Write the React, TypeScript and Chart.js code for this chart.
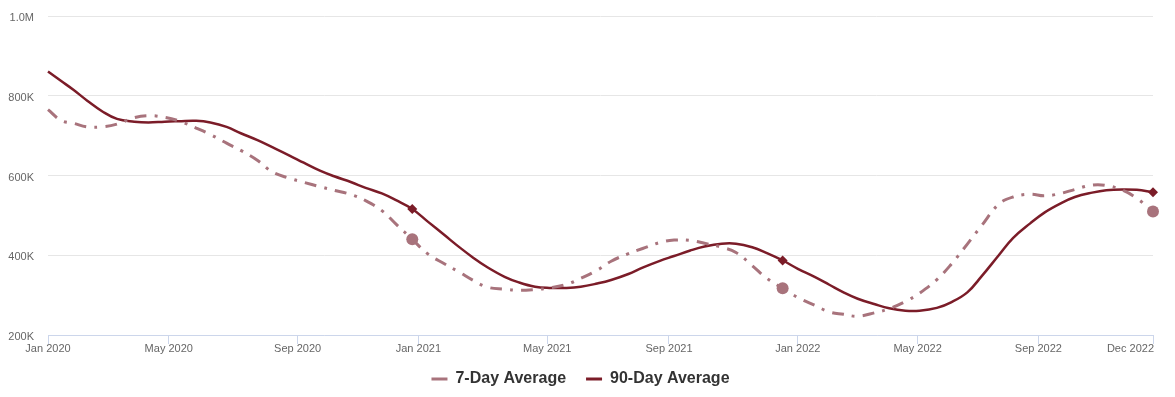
import React, { useEffect, useRef } from "react";
import { Chart, registerables } from "chart.js";

Chart.register(...registerables);

// Dates of the sampled points (ISO)
const dates = [
  "2020-01-07", "2020-01-20", "2020-02-01", "2020-02-15", "2020-03-01", "2020-03-15",
  "2020-04-01", "2020-04-15", "2020-05-01", "2020-05-15", "2020-06-01", "2020-06-15",
  "2020-07-01", "2020-07-15", "2020-08-01", "2020-08-15", "2020-09-01", "2020-09-15",
  "2020-10-01", "2020-10-15", "2020-11-01", "2020-11-15", "2020-12-01", "2020-12-15",
  "2020-12-31",
  "2021-01-15", "2021-02-01", "2021-02-15", "2021-03-01", "2021-03-15", "2021-04-01",
  "2021-04-15", "2021-05-01", "2021-05-15", "2021-06-01", "2021-06-15", "2021-07-01",
  "2021-07-15", "2021-08-01", "2021-08-15", "2021-09-01", "2021-09-15", "2021-10-01",
  "2021-10-15", "2021-11-01", "2021-11-15", "2021-12-01", "2021-12-15", "2021-12-31",
  "2022-01-15", "2022-02-01", "2022-02-15", "2022-03-01", "2022-03-15", "2022-04-01",
  "2022-04-15", "2022-05-01", "2022-05-15", "2022-06-01", "2022-06-15", "2022-07-01",
  "2022-07-15", "2022-08-01", "2022-08-15", "2022-09-01", "2022-09-15", "2022-10-01",
  "2022-10-15", "2022-11-01", "2022-11-15", "2022-12-01", "2022-12-15", "2022-12-31",
];

// Values in thousands
const sevenDay = [
  765, 738, 731, 722, 722, 729,
  745, 750, 746, 737, 719, 703,
  681, 663, 637, 609, 593, 583,
  572, 563, 552, 537, 512, 478,
  440,
  404, 378, 358, 337, 320, 315,
  312, 314, 318, 327, 342, 362,
  385, 404, 417, 432, 438, 437,
  430, 420, 407, 374, 343, 317,
  294, 274, 258, 252, 247, 256,
  266, 284, 305, 339, 377, 428,
  474, 528, 546, 553, 549, 555,
  565, 576, 575, 563, 543, 510,
];

const ninetyDay = [
  861, 837, 815, 787, 760, 742,
  735, 733, 735, 736, 737, 733,
  722, 706, 688, 671, 650, 632,
  612, 598, 583, 569, 555, 538,
  516,
  485, 450, 421, 394, 370, 346,
  332, 321, 318, 318, 321, 329,
  338, 353, 369, 386, 398, 412,
  422, 429, 429, 420, 406, 387,
  366, 345, 326, 307, 291, 277,
  267, 261, 261, 268, 282, 307,
  347, 400, 443, 480, 507, 530,
  546, 557, 563, 565, 564, 558,
];

const markerDates = ["2020-12-31", "2021-12-31", "2022-12-31"];

const tickDates = [
  "2020-01-07", "2020-05-05", "2020-09-09", "2021-01-06", "2021-05-13",
  "2021-09-10", "2022-01-15", "2022-05-13", "2022-09-09", "2022-12-31",
];
const tickLabels = [
  "Jan 2020", "May 2020", "Sep 2020", "Jan 2021", "May 2021",
  "Sep 2021", "Jan 2022", "May 2022", "Sep 2022", "Dec 2022",
];

const yTicks = [200, 400, 600, 800, 1000];
const seriesNames = ["7-Day Average", "90-Day Average"];

const COLOR_7 = "#a8737c";
const COLOR_90 = "#7b1c28";
const FONT = '"Liberation Sans", Arial, Helvetica, sans-serif';

const dayOf = (s: string) => {
  const [y, m, d] = s.split("-").map(Number);
  return (Date.UTC(y, m - 1, d) - Date.UTC(2020, 0, 1)) / 86400000;
};

const markerIdx = new Set(markerDates.map((d) => dates.indexOf(d)));

const xLabelPlugin = {
  id: "xLabels",
  afterDraw(chart: any) {
    const { ctx, chartArea } = chart;
    const x = chart.scales.x;
    ctx.save();
    ctx.font = `11px ${FONT}`;
    ctx.fillStyle = "#666666";
    ctx.textBaseline = "middle";
    tickDates.forEach((d, i) => {
      const px = x.getPixelForValue(dayOf(d));
      const last = i === tickDates.length - 1;
      ctx.textAlign = last ? "right" : "center";
      ctx.fillText(tickLabels[i], px + (last ? 1 : 0), chartArea.bottom + 14);
    });
    ctx.restore();
  },
};

export default function App() {
  const ref = useRef<HTMLCanvasElement | null>(null);

  useEffect(() => {
    if (!ref.current) return;
    const chart = new Chart(ref.current, {
      type: "line",
      data: {
        datasets: [
          {
            label: seriesNames[0],
            data: dates.map((d, i) => ({ x: dayOf(d), y: sevenDay[i] })),
            borderColor: COLOR_7,
            backgroundColor: COLOR_7,
            borderWidth: 3,
            borderDash: [12, 8, 3, 8],
            tension: 0.4,
            pointRadius: (c: any) => (markerIdx.has(c.dataIndex) ? 6 : 0),
            pointStyle: "circle",
            pointBackgroundColor: COLOR_7,
            pointBorderWidth: 0,
            clip: false,
          },
          {
            label: seriesNames[1],
            data: dates.map((d, i) => ({ x: dayOf(d), y: ninetyDay[i] })),
            borderColor: COLOR_90,
            backgroundColor: COLOR_90,
            borderWidth: 2.5,
            tension: 0.4,
            pointRadius: (c: any) => (markerIdx.has(c.dataIndex) ? 5 : 0),
            pointStyle: "rectRot",
            pointBackgroundColor: COLOR_90,
            pointBorderWidth: 0,
            clip: false,
          },
        ],
      },
      options: {
        animation: false,
        responsive: true,
        maintainAspectRatio: false,
        layout: { padding: { top: 8, right: 14, bottom: 0, left: 0 } },
        plugins: {
          tooltip: { enabled: false },
          legend: {
            position: "bottom",
            labels: {
              boxWidth: 16,
              boxHeight: 3,
              padding: 20,
              color: "#333333",
              font: { family: FONT, size: 16, weight: "bold" },
              generateLabels: (ch: any) =>
                ch.data.datasets.map((ds: any, i: number) => ({
                  text: ds.label,
                  fillStyle: ds.borderColor,
                  strokeStyle: ds.borderColor,
                  lineWidth: 0,
                  hidden: false,
                  datasetIndex: i,
                  fontColor: "#333333",
                })),
            },
          },
        },
        scales: {
          x: {
            type: "linear",
            min: dayOf(dates[0]),
            max: dayOf(dates[dates.length - 1]),
            afterBuildTicks: (s: any) => {
              s.ticks = tickDates.map((d) => ({ value: dayOf(d) }));
            },
            afterFit: (s: any) => {
              s.height = 16;
              s.paddingLeft = 0;
              s.paddingRight = 0;
            },
            ticks: { display: false },
            grid: {
              drawOnChartArea: false,
              drawTicks: true,
              tickLength: 9,
              color: "#ccd6eb",
              lineWidth: 1,
            },
            border: { display: true, color: "#ccd6eb", width: 1 },
          },
          y: {
            min: 200,
            max: 1000,
            afterBuildTicks: (s: any) => {
              s.ticks = yTicks.map((v) => ({ value: v }));
            },
            afterFit: (s: any) => {
              s.width = 40;
              s.paddingTop = 0;
              s.paddingBottom = 0;
            },
            ticks: {
              padding: 14,
              labelOffset: 2,
              color: "#666666",
              font: { family: FONT, size: 11 },
              callback: (v: any) => (v >= 1000 ? (v / 1000).toFixed(1) + "M" : v + "K"),
            },
            grid: { color: "#e6e6e6", drawTicks: false, lineWidth: 1 },
            border: { display: false },
          },
        },
      },
      plugins: [xLabelPlugin],
    });
    return () => chart.destroy();
  }, []);

  return (
    <div style={{ width: "1159px", height: "381px", overflow: "hidden" }}>
      <div style={{ position: "relative", width: "1159px", height: "389px" }}>
        <canvas ref={ref} />
      </div>
    </div>
  );
}
